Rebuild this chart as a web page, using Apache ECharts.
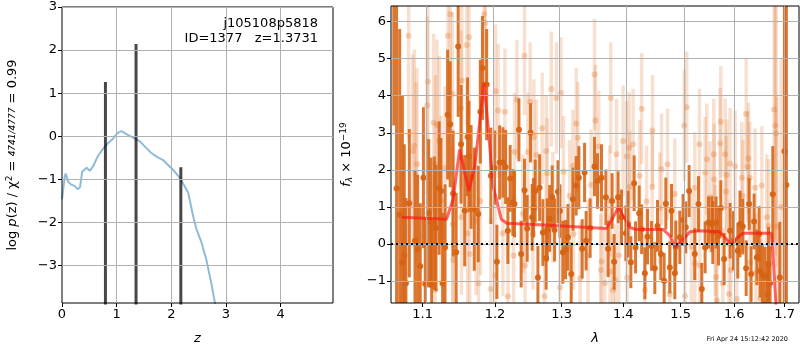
<!DOCTYPE html>
<html>
<head>
<meta charset="utf-8">
<script src="https://cdn.jsdelivr.net/npm/echarts@6/dist/echarts.min.js"></script>
<style>
  html, body { margin: 0; padding: 0; background: #fff; }
  #chart { width: 800px; height: 350px; }
</style>
</head>
<body>
<div id="chart"></div>
<script>
// left panel: log p(z)
const pzZ = [0, 0.02, 0.05, 0.068, 0.11, 0.17, 0.23, 0.29, 0.33, 0.37, 0.45, 0.51, 0.57, 0.66, 0.75, 0.84, 0.93, 1.02, 1.09, 1.18, 1.30, 1.42, 1.55, 1.63, 1.73, 1.85, 1.97, 2.05, 2.16, 2.25, 2.31, 2.40, 2.46, 2.55, 2.64, 2.74, 2.80, 2.85];
const pzLog = [-1.46, -1.25, -0.94, -0.86, -1.05, -1.12, -1.15, -1.23, -1.18, -0.82, -0.73, -0.80, -0.69, -0.45, -0.29, -0.16, -0.06, 0.08, 0.12, 0.05, -0.03, -0.11, -0.28, -0.38, -0.47, -0.55, -0.70, -0.80, -0.97, -1.17, -1.31, -1.85, -2.15, -2.45, -2.85, -3.45, -3.87, -4.3];
const peakZ = [0.795, 1.355, 2.175];
const peakTop = [1.26, 2.14, -0.72];
const zTicks = [0, 1, 2, 3, 4];
const logTicks = [-3, -2, -1, 0, 1, 2, 3];

// right panel: spectrum, two beams + model
const darkWave = [
  1.0625, 1.0660, 1.0700, 1.0735, 1.0760, 1.0781, 1.0825, 1.0899, 1.0934, 1.0968,
  1.1010, 1.1034, 1.1080, 1.1110, 1.1120, 1.1155, 1.1178, 1.1220, 1.1245, 1.1267,
  1.1300, 1.1335, 1.1370, 1.1410, 1.1452, 1.1480, 1.1520, 1.1570, 1.1610, 1.1630,
  1.1660, 1.1704, 1.1760, 1.1790, 1.1820, 1.1880, 1.1940, 1.1994, 1.2027, 1.2066,
  1.2114, 1.2154, 1.2187, 1.2220, 1.2260, 1.2284, 1.2350, 1.2383, 1.2433, 1.2473,
  1.2524, 1.2548, 1.2570, 1.2594, 1.2635, 1.2661, 1.2711, 1.2761, 1.2777, 1.2814,
  1.2854, 1.2891, 1.2943, 1.2974, 1.3020, 1.3063, 1.3100, 1.3151, 1.3178, 1.3230,
  1.3273, 1.3326, 1.3364, 1.3389, 1.3454, 1.3525, 1.3574, 1.3639, 1.3711, 1.3748,
  1.3814, 1.3848, 1.3914, 1.3971, 1.4044, 1.4082, 1.4129, 1.4185, 1.4209, 1.4271,
  1.4314, 1.4369, 1.4416, 1.4485, 1.4542, 1.4589, 1.4647, 1.4706, 1.4736, 1.4807,
  1.4837, 1.4896, 1.4914, 1.4986, 1.5045, 1.5094, 1.5154, 1.5258, 1.5326, 1.5387,
  1.5449, 1.5512, 1.5573, 1.5592, 1.5654, 1.5700, 1.5743, 1.5806, 1.5920, 1.5985,
  1.6068, 1.6110, 1.6165, 1.6230, 1.6288, 1.6327, 1.6386, 1.6440, 1.6485, 1.6505,
  1.6552, 1.6604, 1.6652, 1.6672, 1.6704, 1.6758, 1.6900, 1.6995, 1.7035];
const darkFlux = [
  7.5, 1.5, 0.8, -0.5, -0.31, -1.06, 1.10, 0.09, -0.14, -0.60,
  1.79, -1.08, 0.83, 0.58, -1.10, 0.56, 0.43, 1.51, 1.43, -1.06,
  -0.09, 3.49, 3.23, 1.36, -0.22, 5.33, 2.69, 0.90, 2.89, 2.36,
  1.81, 0.94, 0.81, 3.57, 4.75, 4.30, 1.84, 2.06, -0.48, 2.20,
  2.20, 2.08, 0.36, 1.77, 1.12, 1.08, 3.08, -0.27, 1.45, 0.42,
  3.00, 0.72, 0.98, 1.43, -0.90, 1.52, 0.31, -0.38, 0.38, 0.69,
  1.27, 0.38, 1.41, 0.89, -0.22, -0.15, 0.18, -0.81, 1.21, 1.57,
  1.79, -0.13, 1.93, 0.09, 0.43, 2.09, 1.70, 1.79, 1.26, -0.13,
  1.16, -0.48, 1.26, 0.72, 0.29, 0.54, -0.49, 1.64, -0.09, 0.83,
  0.40, -0.79, 0.20, -0.05, -0.65, 0.49, -0.27, -0.99, 1.09, -0.63,
  0.90, -0.79, -0.07, 0.18, 0.65, 0.45, 1.43, -0.27, 1.08, -1.21,
  -0.09, 0.58, 0.54, 0.31, 0.58, 0.22, 0.97, -0.40, 0.36, 0.09,
  -0.18, 0.54, 0.47, -0.65, 1.08, -0.81, 0.61, -0.36, 0.27, -0.72,
  -0.83, -0.88, -1.36, -0.54, -1.06, 1.34, -0.9, 2.5, 1.59];
const darkErr = [
  4.3, 5.5, 5.0, 4.5, 3.0, 2.3, 2.0, 1.9, 2.0, 1.7,
  1.9, 1.8, 2.0, 1.75, 1.6, 1.8, 1.7, 1.8, 1.43, 1.9,
  1.7, 1.75, 1.7, 1.7, 1.6, 1.9, 1.6, 1.5, 1.6, 1.5,
  1.4, 1.66, 1.3, 1.4, 1.4, 1.5, 1.3, 1.0, 1.0, 1.0,
  0.95, 1.0, 0.9, 0.9, 0.9, 0.9, 0.85, 0.9, 0.85, 0.9,
  0.8, 0.9, 0.8, 0.85, 0.85, 0.9, 0.9, 0.85, 0.85, 0.9,
  0.85, 0.85, 0.85, 0.72, 0.85, 0.8, 0.9, 0.85, 0.85, 0.8,
  0.85, 0.8, 0.8, 0.8, 0.8, 0.8, 0.75, 0.9, 0.75, 0.76,
  0.75, 0.75, 0.7, 0.75, 0.75, 0.9, 0.7, 0.75, 0.7, 0.75,
  0.67, 0.7, 0.75, 0.67, 0.7, 0.7, 0.7, 0.75, 0.7, 0.7,
  0.72, 0.7, 0.7, 0.72, 0.7, 0.7, 0.7, 0.7, 0.75, 0.7,
  0.7, 0.7, 0.75, 0.85, 0.7, 0.8, 0.75, 0.7, 0.75, 0.8,
  0.75, 0.9, 0.75, 0.75, 0.7, 0.75, 0.75, 0.75, 0.75, 0.72,
  0.8, 0.8, 0.9, 1.0, 1.0, 1.3, 1.5, 9.0, 9.0];

const lightWave = [1.0730, 1.0816, 1.0870, 1.0889, 1.0912, 1.0925, 1.1060, 1.1070, 1.1146, 1.1167, 1.1170, 1.1191, 1.1220, 1.1245, 1.1300, 1.1340, 1.1370, 1.1400, 1.1405, 1.1410, 1.1520, 1.1525, 1.1530, 1.1600, 1.1610, 1.1630, 1.1640, 1.1730, 1.1765, 1.1790, 1.1845, 1.1860, 1.1940, 1.2000, 1.2008, 1.2045, 1.2114, 1.2143, 1.2187, 1.2271, 1.2284, 1.2320, 1.2408, 1.2433, 1.2441, 1.2483, 1.2518, 1.2559, 1.2574, 1.2610, 1.2700, 1.2736, 1.2761, 1.2777, 1.2840, 1.2864, 1.2921, 1.2974, 1.2990, 1.3030, 1.3126, 1.3178, 1.3188, 1.3230, 1.3257, 1.3294, 1.3419, 1.3470, 1.3525, 1.3540, 1.3595, 1.3627, 1.3639, 1.3693, 1.3776, 1.3780, 1.3792, 1.3831, 1.3870, 1.3887, 1.3926, 1.3998, 1.4060, 1.4065, 1.4099, 1.4111, 1.4167, 1.4280, 1.4314, 1.4369, 1.4399, 1.4496, 1.4502, 1.4630, 1.4660, 1.4766, 1.4807, 1.4896, 1.5066, 1.5078, 1.5110, 1.5196, 1.5258, 1.5260, 1.5344, 1.5350, 1.5449, 1.5480, 1.5542, 1.5611, 1.5617, 1.5636, 1.5654, 1.5670, 1.5730, 1.5743, 1.5781, 1.5825, 1.5842, 1.5856, 1.5900, 1.5920, 1.5935, 1.6017, 1.6049, 1.6146, 1.6165, 1.6230, 1.6260, 1.6276, 1.6300, 1.6308, 1.6406, 1.6420, 1.6505, 1.6539, 1.6638, 1.6672, 1.6784, 1.6810, 1.6825, 1.6840, 1.6927];
const lightFlux = [-0.52, 5.62, 2.51, 2.65, 1.86, 2.15, 3.74, 4.38, 3.27, -1.24, 2.15, 3.21, 2.78, 1.16, 2.06, 5.62, 6.20, 4.05, 0.54, -0.43, 3.66, 0.73, 4.41, 5.37, 0.29, 5.58, -0.27, 0.63, -1.06, 1.16, 6.20, 5.96, -1.21, -0.85, 4.12, 3.60, 0.29, 3.57, -1.41, -0.31, 2.48, 3.90, 0.82, 5.08, -0.58, 2.48, 3.84, 0.27, 2.89, 2.40, 3.12, -1.41, 2.51, 1.90, 4.18, 0.99, 3.94, -1.17, 4.08, 1.95, 1.30, 2.12, 0.27, 3.25, 2.87, -0.92, -0.31, 1.59, 4.57, 3.33, 2.63, -0.70, -0.47, -1.05, 1.16, -0.74, 3.94, -1.24, -0.97, 2.42, -0.31, 2.78, 2.36, -0.91, 2.60, 1.54, 2.69, 1.84, 3.65, -1.24, 1.15, 1.54, 3.06, 0.97, 2.02, 2.15, -1.35, 1.35, 3.20, -1.40, 3.69, -0.07, 1.52, -0.52, 2.69, -0.58, 1.93, 2.29, 1.27, 2.42, 1.75, 0.09, -0.89, -1.52, 2.71, 3.30, -1.06, 2.42, 1.42, 1.86, -1.35, 2.17, -0.70, 2.10, -1.48, 1.79, 1.30, 3.51, 2.08, 2.31, 1.79, -0.50, 1.52, -0.77, -1.46, 1.58, 0.72, 0.49, 3.63, 3.20, 2.98, 0.47, 1.00];
const lightErr = [2.8, 2.8, 2.6, 2.6, 2.5, 2.6, 2.4, 2.4, 2.4, 2.3, 2.4, 2.3, 2.3, 2.3, 2.2, 2.3, 2.3, 2.2, 2.1, 2.1, 2.1, 2.1, 2.2, 2.2, 2.0, 2.1, 2.0, 2.0, 2.0, 2.0, 2.1, 2.1, 1.9, 1.9, 1.8, 1.8, 1.7, 1.7, 1.7, 1.6, 1.6, 1.6, 1.6, 1.6, 1.5, 1.6, 1.6, 1.5, 1.55, 1.5, 1.5, 1.5, 1.5, 1.5, 1.55, 1.5, 1.5, 1.5, 1.5, 1.5, 1.5, 1.5, 1.5, 1.5, 1.5, 1.5, 1.5, 1.5, 1.5, 1.5, 1.5, 1.5, 1.5, 1.5, 1.5, 1.5, 1.5, 1.5, 1.5, 1.5, 1.5, 1.5, 1.5, 1.5, 1.5, 1.5, 1.5, 1.5, 1.5, 1.5, 1.5, 1.5, 1.5, 1.5, 1.5, 1.5, 1.5, 1.5, 1.5, 1.5, 1.5, 1.5, 1.5, 1.5, 1.5, 1.5, 1.5, 1.5, 1.5, 1.5, 1.5, 1.5, 1.5, 1.5, 1.5, 1.5, 1.5, 1.5, 1.5, 1.5, 1.5, 1.5, 1.5, 1.5, 1.5, 1.5, 1.5, 1.5, 1.5, 1.5, 1.5, 1.5, 1.6, 1.6, 1.6, 1.6, 1.7, 1.8, 3.5, 3.5, 3.6, 3.5, 4.0];

const modelWave = [1.0726, 1.1320, 1.1410, 1.1500, 1.1570, 1.1630, 1.1710, 1.1780, 1.1840, 1.1900, 1.1970, 1.2020, 1.2090, 1.2170, 1.2660, 1.3720, 1.3800, 1.3920, 1.4000, 1.4110, 1.4200, 1.4690, 1.4810, 1.4900, 1.4960, 1.5050, 1.5170, 1.5350, 1.5720, 1.5850, 1.5950, 1.6040, 1.6170, 1.6730, 1.6760, 1.6820, 1.6880];
const modelFlux = [0.72, 0.67, 1.21, 2.55, 1.93, 1.43, 2.10, 3.27, 4.35, 3.18, 1.57, 1.21, 0.67, 0.56, 0.52, 0.42, 0.63, 0.99, 0.76, 0.45, 0.40, 0.39, 0.22, -0.09, 0.00, 0.13, 0.33, 0.36, 0.33, 0.13, -0.04, 0.15, 0.29, 0.29, -0.22, -1.59, -3.0];

const lamTicks = [1.1, 1.2, 1.3, 1.4, 1.5, 1.6, 1.7];
const fluxTicks = [-1, 0, 1, 2, 3, 4, 5, 6];

const chart = echarts.init(document.getElementById("chart"));

const FONT = "DejaVu Sans";
const minus = (v) => (v < 0 ? "\u2212" + -v : String(v));
const logLam = (v) => Math.log(v);

function errorBars(color, dotColor, width, r) {
  return function (params, api) {
    const x = api.value(0);
    const y = api.value(1);
    const e = api.value(2);
    const top = api.coord([x, y + e]);
    const bot = api.coord([x, y - e]);
    const c = api.coord([x, y]);
    return {
      type: "group",
      children: [
        { type: "line", shape: { x1: top[0], y1: top[1], x2: bot[0], y2: bot[1] }, style: { stroke: color, lineWidth: width } },
        { type: "circle", shape: { cx: c[0], cy: c[1], r: r }, style: { fill: dotColor } },
      ],
    };
  };
}

function axisCommon(ticks, fmt) {
  return {
    axisLine: { show: false, onZero: false },
    axisTick: { show: true, length: 4, inside: false, lineStyle: { color: "#000" }, customValues: ticks },
    axisLabel: { color: "#000", fontSize: 13, fontFamily: FONT, margin: 5, customValues: ticks, formatter: fmt },
    splitLine: { show: false },
  };
}

// grid lines drawn as mark lines on an empty series, under the data
function gridSeries(idx, xs, ys) {
  return {
    type: "line", xAxisIndex: idx, yAxisIndex: idx, data: [], z: 0, silent: true,
    markLine: {
      silent: true, symbol: "none", label: { show: false }, animation: false,
      lineStyle: { color: "#b0b0b0", type: "solid", width: 1 },
      emphasis: { disabled: true },
      data: xs.map((v) => ({ xAxis: v })).concat(ys.map((v) => ({ yAxis: v }))),
    },
  };
}

const nameStyle = { fontSize: 13, fontStyle: "italic", fontFamily: FONT, color: "#000" };

const option = {
  animation: false,
  grid: [
    { left: 62, top: 7, width: 271, height: 297, show: true, borderColor: "#000", borderWidth: 1, backgroundColor: "transparent", z: 5 },
    { left: 391, top: 6, width: 408, height: 298, show: true, borderColor: "#000", borderWidth: 1, backgroundColor: "transparent", z: 5 },
  ],
  xAxis: [
    Object.assign({
      type: "value", gridIndex: 0, min: 0, max: 4.96,
      name: "z", nameLocation: "middle", nameGap: 29, nameTextStyle: nameStyle,
    }, axisCommon(zTicks, minus)),
    Object.assign({
      type: "value", gridIndex: 1, min: Math.log(1.0589), max: Math.log(1.7295),
      name: "λ", nameLocation: "middle", nameGap: 29, nameTextStyle: nameStyle,
    }, axisCommon(lamTicks.map(logLam), (v) => Math.exp(v).toFixed(1))),
  ],
  yAxis: [
    Object.assign({
      type: "value", gridIndex: 0, min: -3.866, max: 3,
      name: "{n|log }{i|p}{n|(z) / χ}{s|2}{n| = }{f|4741/4777}{n| = 0.99}",
      nameLocation: "middle", nameRotate: 90, nameGap: 42,
      nameTextStyle: {
        color: "#000",
        rich: {
          n: { fontSize: 13, fontFamily: FONT, color: "#000" },
          i: { fontSize: 13, fontFamily: FONT, fontStyle: "italic", color: "#000" },
          s: { fontSize: 9, fontFamily: FONT, color: "#000", verticalAlign: "top", padding: [0, 0, 6, 0] },
          f: { fontSize: 9, fontFamily: FONT, fontStyle: "italic", color: "#000" },
        },
      },
    }, axisCommon(logTicks, minus)),
    Object.assign({
      type: "value", gridIndex: 1, min: -1.59, max: 6.42,
      name: "{i|f}{sub|λ}{n| × 10}{sup|−19}",
      nameLocation: "middle", nameRotate: 90, nameGap: 36,
      nameTextStyle: {
        color: "#000",
        rich: {
          n: { fontSize: 13, fontFamily: FONT, color: "#000" },
          i: { fontSize: 13, fontFamily: FONT, fontStyle: "italic", color: "#000" },
          sub: { fontSize: 9, fontFamily: FONT, fontStyle: "italic", color: "#000", padding: [6, 0, 0, 0] },
          sup: { fontSize: 9, fontFamily: FONT, color: "#000", padding: [0, 0, 7, 0] },
        },
      },
    }, axisCommon(fluxTicks, minus)),
  ],
  graphic: [
    { type: "text", right: 482, top: 17, z: 10, style: { text: "j105108p5818", fontSize: 13, fontFamily: FONT, fill: "#000" } },
    { type: "text", right: 482, top: 32, z: 10, style: { text: "ID=1377   z=1.3731", fontSize: 13, fontFamily: FONT, fill: "#000" } },
    { type: "text", right: 12, top: 336, style: { text: "Fri Apr 24 15:12:42 2020", fontSize: 6.5, fontFamily: FONT, fill: "#000" } },
  ],
  series: [
    gridSeries(0, zTicks.slice(1), logTicks),
    gridSeries(1, lamTicks.map(logLam), fluxTicks),
    {
      type: "line", xAxisIndex: 0, yAxisIndex: 0, showSymbol: false, clip: true, z: 2,
      data: pzZ.map((z, i) => [z, pzLog[i]]),
      lineStyle: { color: "rgba(31,119,180,0.5)", width: 2 },
    },
    ...peakZ.map((z, i) => ({
      type: "line", xAxisIndex: 0, yAxisIndex: 0, showSymbol: false, clip: true, z: 2,
      data: [[z, -5], [z, peakTop[i]]],
      lineStyle: { color: "rgba(0,0,0,0.72)", width: 3, cap: "butt" },
    })),
    {
      type: "custom", xAxisIndex: 1, yAxisIndex: 1, clip: true, z: 2,
      data: lightWave.map((w, i) => [Math.log(w), lightFlux[i], lightErr[i]]),
      renderItem: errorBars("rgba(225,115,40,0.22)", "rgba(225,115,40,0.3)", 3.5, 3),
    },
    {
      type: "custom", xAxisIndex: 1, yAxisIndex: 1, clip: true, z: 2,
      data: darkWave.map((w, i) => [Math.log(w), darkFlux[i], darkErr[i]]),
      renderItem: errorBars("rgba(214,100,20,0.88)", "rgba(214,100,20,0.95)", 3, 3),
    },
    {
      type: "line", xAxisIndex: 1, yAxisIndex: 1, showSymbol: false, clip: true, z: 3,
      data: modelWave.map((w, i) => [Math.log(w), modelFlux[i]]),
      lineStyle: { color: "rgba(255,20,20,0.65)", width: 3 },
      markLine: {
        silent: true, symbol: "none", label: { show: false },
        lineStyle: { color: "#000", type: [2, 3], width: 2 },
        data: [{ yAxis: 0 }],
      },
    },
  ],
};

chart.setOption(option);
</script>
</body>
</html>
